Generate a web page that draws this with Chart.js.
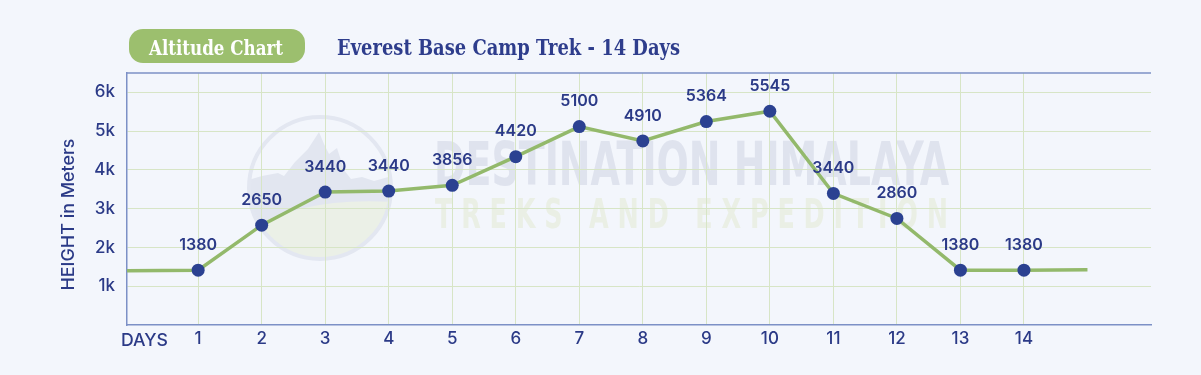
<!DOCTYPE html>
<html>
<head>
<meta charset="utf-8">
<script src="https://cdn.jsdelivr.net/npm/chart.js@4.4.1/dist/chart.umd.min.js"></script>
<style>
html,body{margin:0;padding:0;background:#f3f6fc;}
canvas{display:block;}
</style>
</head>
<body>
<canvas id="c" width="1201" height="375"></canvas>
<script>
// ---------- data ----------
const dayNumbers = [1, 2, 3, 4, 5, 6, 7, 8, 9, 10, 11, 12, 13, 14];
const altitudeLabels = [1380, 2650, 3440, 3440, 3856, 4420, 5100, 4910, 5364, 5545, 3440, 2860, 1380, 1380];
const plottedHeights = [1413, 2576, 3429, 3455, 3602, 4343, 5118, 4747, 5248, 5514, 3395, 2749, 1415, 1413];
const lineLeadHeight = 1398;
const lineTailDay = 15;
const lineTailHeight = 1424;
const yTickValues = [1000, 2000, 3000, 4000, 5000, 6000];
const yTickLabels = ['1k', '2k', '3k', '4k', '5k', '6k'];
const xAxisName = 'DAYS';
const yAxisName = 'HEIGHT in Meters';
const badgeText = 'Altitude Chart';
const titleText = 'Everest Base Camp Trek - 14 Days';
const watermarkMain = 'DESTINATION HIMALAYA';
const watermarkSub = 'TREKS AND EXPEDITION';

// ---------- style ----------
const X_MIN = -0.12, X_MAX = 16, Y_MIN = 0, Y_MAX = 6500;
const BG = '#f3f6fc';
const NAVY = '#2b3a87';
const POINT = '#2b4191';
const LINE = '#93b96b';
const GRID = '#d7e5c6';
const AXIS = '#7c90c6';
const TICK_FONT = {family: 'Inter', size: 17, weight: '500'};
const SLAB = '"DejaVu Serif", serif';

const pointsData = dayNumbers.map((d, i) => ({x: d, y: plottedHeights[i]}));
const lineData = [{x: X_MIN, y: lineLeadHeight}].concat(pointsData, [{x: lineTailDay, y: lineTailHeight}]);

function fitText(ctx, text, x, yBase, width, font, color) {
  ctx.save();
  ctx.font = font;
  const w = ctx.measureText(text).width;
  ctx.translate(x, yBase);
  ctx.scale(width / w, 1);
  ctx.fillStyle = color;
  ctx.textAlign = 'left';
  ctx.textBaseline = 'alphabetic';
  ctx.fillText(text, 0, 0);
  ctx.restore();
}

function spacedText(ctx, text, x, yBase, width, font, color, squeeze) {
  ctx.save();
  ctx.font = font;
  ctx.fillStyle = color;
  ctx.textBaseline = 'alphabetic';
  const chars = text.split('');
  const widths = chars.map(c => ctx.measureText(c).width * squeeze);
  const total = widths.reduce((a, b) => a + b, 0);
  const gap = (width - total) / (chars.length - 1);
  let cx = x;
  chars.forEach((c, i) => {
    ctx.save(); ctx.translate(cx, yBase); ctx.scale(squeeze, 1); ctx.fillText(c, 0, 0); ctx.restore();
    cx += widths[i] + gap;
  });
  ctx.restore();
}

const decor = {
  id: 'decor',
  beforeDraw(chart) {
    const ctx = chart.ctx;
    ctx.save();
    ctx.fillStyle = BG;
    ctx.fillRect(0, 0, chart.width, chart.height);

    // faint logo watermark
    const cx = 320, cy = 188, r = 71;
    ctx.save();
    ctx.beginPath(); ctx.arc(cx, cy, r, 0, Math.PI * 2); ctx.clip();
    ctx.fillStyle = '#e2e6f0';
    ctx.beginPath();
    ctx.moveTo(248, 180); ctx.lineTo(262, 176); ctx.lineTo(278, 173); ctx.lineTo(284, 176);
    ctx.lineTo(295, 162); ctx.lineTo(308, 149); ctx.lineTo(319, 132); ctx.lineTo(324, 144);
    ctx.lineTo(329, 154); ctx.lineTo(337, 148); ctx.lineTo(344, 170); ctx.lineTo(351, 179);
    ctx.lineTo(362, 177); ctx.lineTo(374, 181); ctx.lineTo(392, 176); ctx.lineTo(392, 230);
    ctx.lineTo(248, 230); ctx.closePath(); ctx.fill();
    ctx.fillStyle = '#ebf0e7';
    ctx.beginPath();
    ctx.moveTo(245, 232); ctx.quadraticCurveTo(300, 196, 395, 202);
    ctx.lineTo(395, 265); ctx.lineTo(245, 265); ctx.closePath(); ctx.fill();
    ctx.restore();
    ctx.strokeStyle = '#e3e7f1';
    ctx.lineWidth = 4;
    ctx.beginPath(); ctx.arc(cx, cy, r, 0, Math.PI * 2); ctx.stroke();

    fitText(ctx, watermarkMain, 434, 185, 515, 'bold 60px "Liberation Sans Narrow", "DejaVu Sans Condensed", sans-serif', '#dfe3ee');
    spacedText(ctx, watermarkSub, 435, 228, 513, 'bold 41px "Liberation Sans Narrow", "DejaVu Sans", sans-serif', '#eaefe5', 0.62);

    // badge + title
    ctx.fillStyle = '#9cbf6e';
    ctx.beginPath(); ctx.roundRect(129, 29, 176, 34, 14); ctx.fill();
    fitText(ctx, badgeText, 149, 55, 134, 'bold 21px ' + SLAB, '#ffffff');
    fitText(ctx, titleText, 337, 54.5, 343, 'bold 22px ' + SLAB, '#2e3d8c');

    // axis names
    ctx.save();
    ctx.font = '500 17px Inter';
    const yw = ctx.measureText(yAxisName).width;
    ctx.translate(68.5, 214.5);
    ctx.rotate(-Math.PI / 2);
    ctx.scale(152 / yw, 1);
    ctx.fillStyle = NAVY;
    ctx.textAlign = 'center';
    ctx.textBaseline = 'middle';
    ctx.fillText(yAxisName, 0, 0);
    ctx.restore();
    fitText(ctx, xAxisName, 121, 345.5, 47, '500 17px Inter', NAVY);
    ctx.restore();
  },
  beforeDatasetsDraw(chart) {
    const ctx = chart.ctx, a = chart.chartArea;
    ctx.save();
    ctx.strokeStyle = AXIS;
    ctx.lineWidth = 1.5;
    ctx.beginPath(); ctx.moveTo(a.left, a.top); ctx.lineTo(a.right, a.top); ctx.stroke();
    ctx.restore();
  },
  afterDatasetsDraw(chart) {
    const ctx = chart.ctx;
    const meta = chart.getDatasetMeta(0);
    ctx.save();
    ctx.font = '600 16px Inter';
    ctx.fillStyle = NAVY;
    ctx.textAlign = 'center';
    ctx.textBaseline = 'middle';
    meta.data.forEach((pt, i) => {
      ctx.fillText(String(altitudeLabels[i]), pt.x, pt.y - 25);
    });
    ctx.restore();
  }
};

new Chart(document.getElementById('c'), {
  type: 'line',
  data: {
    datasets: [
      {data: pointsData, showLine: false, pointRadius: 6.5, pointHoverRadius: 6.5,
       pointBackgroundColor: POINT, pointBorderWidth: 0, order: 0},
      {data: lineData, borderColor: LINE, borderWidth: 3.5, pointRadius: 0,
       tension: 0, fill: false, order: 1}
    ]
  },
  options: {
    responsive: false,
    animation: false,
    devicePixelRatio: 1,
    layout: {padding: {top: 73, right: 50, left: 0, bottom: 0}},
    plugins: {legend: {display: false}, tooltip: {enabled: false}},
    scales: {
      x: {
        type: 'linear', min: X_MIN, max: X_MAX,
        afterBuildTicks: s => { s.ticks = dayNumbers.map(v => ({value: v})); },
        afterFit: s => { s.height = 50; },
        grid: {color: GRID, lineWidth: 1, drawTicks: false},
        border: {color: AXIS, width: 1.5},
        ticks: {padding: 4, color: NAVY, font: TICK_FONT, maxRotation: 0, autoSkip: false,
                callback: v => String(v)}
      },
      y: {
        type: 'linear', min: Y_MIN, max: Y_MAX,
        afterBuildTicks: s => { s.ticks = yTickValues.map(v => ({value: v})); },
        afterFit: s => { s.width = 127; },
        grid: {color: GRID, lineWidth: 1, drawTicks: false},
        border: {color: AXIS, width: 1.5},
        ticks: {padding: 12, color: NAVY, font: TICK_FONT,
                callback: v => yTickLabels[yTickValues.indexOf(v)]}
      }
    }
  },
  plugins: [decor]
});
</script>
</body>
</html>
